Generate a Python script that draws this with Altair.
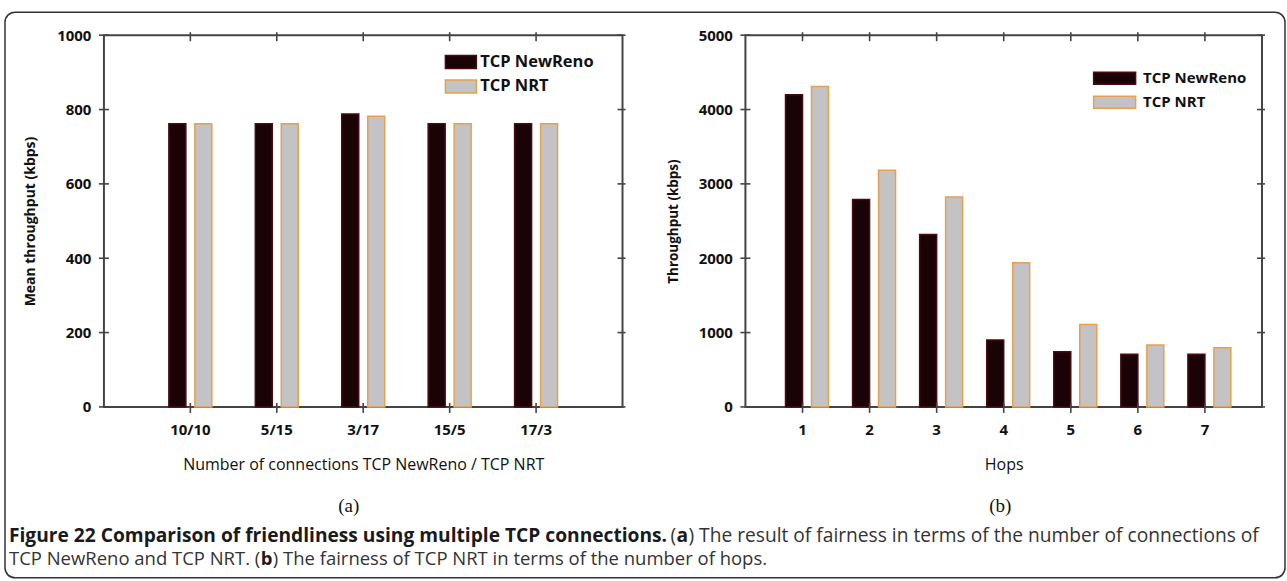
import altair as alt
import pandas as pd

# ---------------- data ----------------
series = ["TCP NewReno", "TCP NRT"]
fill_colors = ["#1a0307", "#c3c3c5"]
stroke_colors = ["#4a0a12", "#e8a04c"]

conn_labels = ["10/10", "5/15", "3/17", "15/5", "17/3"]
conn_newreno = [762, 762, 788, 762, 762]
conn_nrt = [762, 762, 782, 762, 762]
yticks_a = [0, 200, 400, 600, 800, 1000]

hop_labels = ["1", "2", "3", "4", "5", "6", "7"]
hop_newreno = [4200, 2790, 2320, 900, 743, 708, 708]
hop_nrt = [4310, 3185, 2823, 1940, 1110, 833, 797]
yticks_b = [0, 1000, 2000, 3000, 4000, 5000]

caption_bold = "Figure 22 Comparison of friendliness using multiple TCP connections."
cap1_a = "a"
cap1_rest = ") The result of fairness in terms of the number of connections of"
cap2_start = "TCP NewReno and TCP NRT. ("
cap2_b = "b"
cap2_rest = ") The fairness of TCP NRT in terms of the number of hops."

FONT = "Open Sans"
H = 372
WA, WB = 519, 517
OXA, OXB, OY = 103, 745, 34  # plot origins on the page


def make_df(cats, a, b):
    return pd.DataFrame({
        "cat": cats + cats,
        "series": [series[0]] * len(cats) + [series[1]] * len(cats),
        "value": a + b,
    })


one = pd.DataFrame({"k": [0]})


def panel(df, cats, yticks, ymax, W, p_in, p_out, sub_pad, ytitle, ytitle_size,
          ytitle_x, xtitle, leg_x, leg_y, leg_font, sym_path, sym_size,
          leg_label_off, leg_row_pad):
    xscale = alt.Scale(domain=cats, paddingInner=p_in, paddingOuter=p_out)
    yscale = alt.Scale(domain=[0, ymax], nice=False, zero=True)
    xaxis = alt.Axis(
        title=xtitle, labelAngle=0, ticks=False, domain=False, grid=False,
        labelFont=FONT, labelFontSize=15, labelFontWeight="bold",
        labelColor="#111", labelPadding=16,
        titleFont=FONT, titleFontSize=16, titleFontWeight="normal",
        titleColor="#111", titlePadding=19)
    yaxis = alt.Axis(
        values=yticks, format="d", title=ytitle, ticks=False, domain=False, grid=False,
        labelFont=FONT, labelFontSize=15, labelFontWeight="bold",
        labelColor="#111", labelPadding=13,
        titleFont=FONT, titleFontSize=ytitle_size, titleFontWeight="bold",
        titleColor="#111", titleX=ytitle_x, titleY=H / 2,
        titleAngle=270, titleAlign="center", titleBaseline="middle")
    legend = alt.Legend(
        orient="none", legendX=leg_x, legendY=leg_y, title=None,
        symbolType=sym_path, symbolSize=sym_size, symbolStrokeWidth=1.5,
        labelFont=FONT, labelFontSize=leg_font, labelFontWeight="bold",
        labelColor="#111", labelOffset=leg_label_off, rowPadding=leg_row_pad,
        padding=0,
    )
    bars = alt.Chart(df).mark_bar(strokeWidth=1.5).encode(
        x=alt.X("cat:N", sort=cats, scale=xscale, axis=xaxis),
        xOffset=alt.XOffset("series:N", sort=series,
                            scale=alt.Scale(domain=series, paddingInner=sub_pad,
                                            paddingOuter=0)),
        y=alt.Y("value:Q", scale=yscale, axis=yaxis),
        color=alt.Color("series:N", sort=series,
                        scale=alt.Scale(domain=series, range=fill_colors),
                        legend=legend),
        stroke=alt.Stroke("series:N", sort=series,
                          scale=alt.Scale(domain=series, range=stroke_colors),
                          legend=legend),
    )
    xt = pd.DataFrame({"cat": cats})
    yt = pd.DataFrame({"value": yticks})
    rule = dict(color="#444", strokeWidth=1.6)
    xenc = alt.X("cat:N", sort=cats, scale=xscale, axis=xaxis)
    yenc = alt.Y("value:Q", scale=yscale, axis=yaxis)
    top = alt.Chart(xt).mark_rule(**rule).encode(x=xenc, y=alt.value(-3), y2=alt.value(6))
    bot = alt.Chart(xt).mark_rule(**rule).encode(x=xenc, y=alt.value(H - 4), y2=alt.value(H + 6))
    left = alt.Chart(yt).mark_rule(**rule).encode(y=yenc, x=alt.value(-5), x2=alt.value(5))
    right = alt.Chart(yt).mark_rule(**rule).encode(y=yenc, x=alt.value(W - 5), x2=alt.value(W + 3))
    return [bars, top, bot, left, right]


df_a = make_df(conn_labels, conn_newreno, conn_nrt)
df_b = make_df(hop_labels, hop_newreno, hop_nrt)

layers_a = panel(df_a, conn_labels, yticks_a, 1000, WA, 0.503, 0.7515, 0.346,
                 "Mean throughput (kbps)", 14, 30 - OXA,
                 "Number of connections TCP NewReno / TCP NRT",
                 349, 18.5, 16.5, "M-2.385,-1L2.385,-1L2.385,1L-2.385,1Z", 169, 11, 4.5)
layers_b = panel(df_b, hop_labels, yticks_b, 5000, WB, 0.493, 0.598, 0.3,
                 "Throughput (kbps)", 13.5, 673 - OXB, "Hops",
                 362, 35.5, 15, "M-3.5,-1L3.5,-1L3.5,1L-3.5,1Z", 144, 21, 5)

# frame of the figure and caption (placed relative to panel (a) origin)
border = alt.Chart(one).mark_rect(fillOpacity=0, stroke="#333", strokeWidth=1.5,
                                  cornerRadius=10).encode(
    x=alt.value(4 - OXA), x2=alt.value(1285 - OXA),
    y=alt.value(11 - OY), y2=alt.value(577 - OY))


def txt(text, x, y, size=18.5, weight="normal", font=FONT, align="left", color="#222"):
    return alt.Chart(one).mark_text(text=text, font=font, fontSize=size, fontWeight=weight,
                                    align=align, baseline="alphabetic", color=color).encode(
        x=alt.value(x), y=alt.value(y))


sub_a = txt("(a)", 348 - OXA, 511 - OY, size=19, font="Liberation Serif", align="center", color="#111")
sub_b = txt("(b)", 1000 - OXB, 511 - OY, size=19, font="Liberation Serif", align="center", color="#111")
L1, L2 = 541 - OY, 564 - OY
cap = [
    txt(caption_bold, 8 - OXA, L1, size=19.2, weight="bold", color="#1a1a1a"),
    txt("(", 670 - OXA, L1, size=19.2, color="#333"),
    txt(cap1_a, 676 - OXA, L1, size=19.2, weight="bold", color="#1a1a1a"),
    txt(cap1_rest, 688 - OXA, L1, size=19.2, color="#333"),
    txt(cap2_start, 8 - OXA, L2, color="#333"),
    txt(cap2_b, 260 - OXA, L2, weight="bold", color="#1a1a1a"),
    txt(cap2_rest, 272 - OXA, L2, color="#333"),
]

panel_a = alt.layer(*layers_a, border, sub_a, *cap).properties(width=WA, height=H)
panel_b = alt.layer(*layers_b, sub_b).properties(width=WB, height=H)

chart = alt.hconcat(panel_a, panel_b, spacing=OXB - OXA - WA, bounds="flush").resolve_scale(
    color="independent", stroke="independent", x="independent", y="independent"
).resolve_legend(color="independent", stroke="independent").properties(
    padding={"left": 3, "top": 10, "right": 0, "bottom": 0},
    background="white",
).configure_view(stroke="#444", strokeWidth=2)

chart.save("out.html", embed_options={"renderer": "svg", "actions": False})
